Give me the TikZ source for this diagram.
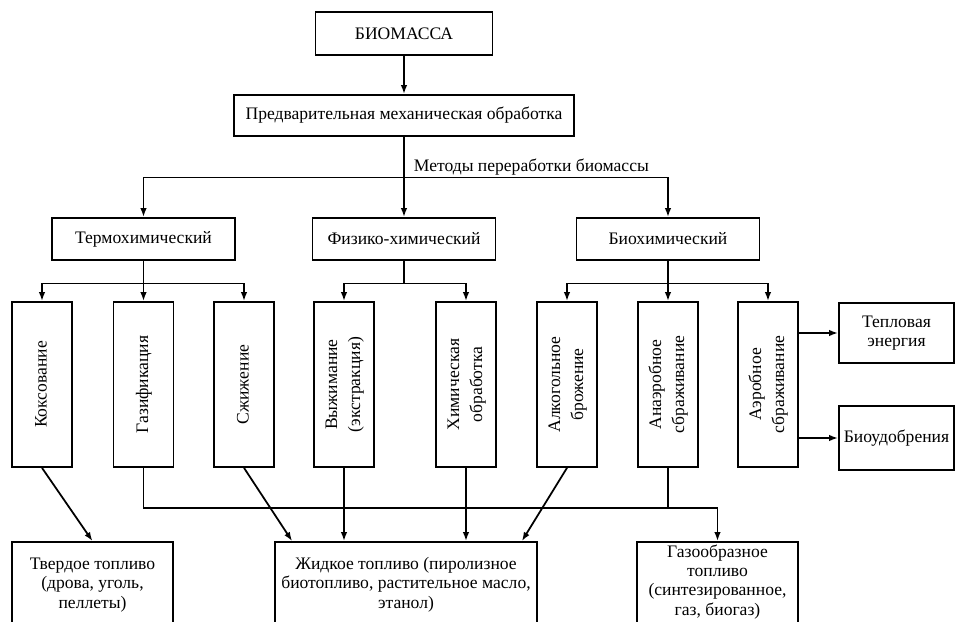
\documentclass[tikz,border=0pt]{standalone}
\usepackage{fontspec}
\setmainfont{Liberation Serif}
\usepackage{tikz}
\usetikzlibrary{arrows.meta}
\usetikzlibrary{shapes}

\newcommand{\rotlbl}[1]{\rotatebox{90}{\renewcommand{\arraystretch}{1.2}\begin{tabular}{@{}c@{}}#1\end{tabular}}}

\begin{document}
\begin{tikzpicture}[font=\fontsize{10}{11}\selectfont, line width=1pt,
    box/.style={rectangle, draw=black, inner sep=1pt, align=center},
    tallbox/.style={box, minimum width=1.2cm, minimum height=3.3cm},
    fuelbox/.style={box, minimum height=1.72cm},
    arr/.style={-{Latex[length=1.8mm,width=1.3mm]}}]
    \useasboundingbox (0,0) rectangle (19.1,-12.44);

    \node (bio) [box, minimum width=3.54cm, minimum height=0.86cm] at (8.08,-0.67) {БИОМАССА};
    \node (pre) [box, minimum width=6.8cm, minimum height=0.82cm] at (8.08,-2.31) {Предварительная механическая обработка};

    \node (termo) [box, minimum width=3.66cm, minimum height=0.84cm] at (2.87,-4.78) {Термохимический};
    \node (phys) [box, minimum width=3.66cm, minimum height=0.84cm] at (8.08,-4.78) {Физико-химический};
    \node (biochem) [box, minimum width=3.66cm, minimum height=0.84cm] at (13.36,-4.78) {Биохимический};

    \node (koks) [tallbox] at (0.84,-7.69) {\rotlbl{Коксование}};
    \node (gasif) [tallbox] at (2.87,-7.69) {\rotlbl{Газификация}};
    \node (szh) [tallbox] at (4.88,-7.69) {\rotlbl{Сжижение}};
    \node (extr) [tallbox] at (6.88,-7.69) {\rotlbl{Выжимание\\(экстракция)}};
    \node (chem) [tallbox] at (9.32,-7.69) {\rotlbl{Химическая\\обработка}};
    \node (alco) [tallbox] at (11.34,-7.69) {\rotlbl{Алкогольное\\брожение}};
    \node (anaer) [tallbox] at (13.36,-7.69) {\rotlbl{Анаэробное\\сбраживание}};
    \node (aer) [tallbox] at (15.36,-7.69) {\rotlbl{Аэробное\\сбраживание}};

    \node (heat) [box, minimum width=2.3cm, minimum height=1.2cm] at (17.93,-6.66) {\begin{tabular}{@{}c@{}}
         Тепловая\\энергия
    \end{tabular}};
    \node (fert) [box, minimum width=2.3cm, minimum height=1.28cm] at (17.93,-8.76) {Биоудобрения};

    \node (solid) [fuelbox, minimum width=3.22cm] at (1.85,-11.7) {\begin{tabular}{@{}c@{}}
         Твердое топливо\\(дрова, уголь,\\пеллеты)
    \end{tabular}};
    \node (liquid) [fuelbox, minimum width=5.24cm] at (8.12,-11.7) {\begin{tabular}{@{}c@{}}
         Жидкое топливо (пиролизное\\биотопливо, растительное масло,\\этанол)
    \end{tabular}};
    \node (gas) [fuelbox, minimum width=3.22cm] at (14.35,-11.7) {\begin{tabular}{@{}c@{}}
         Газообразное\\топливо\\(синтезированное,\\газ, биогаз)\\[3pt]
    \end{tabular}};

    % ствол сверху
    \draw[arr] (bio) -- (pre);
    \coordinate (m) at (8.08,-3.55);
    \draw (pre) -- (m);
    \node (methods) [anchor=west, inner sep=0pt] at (8.26,-3.34) {Методы переработки биомассы};
    \draw[arr] (m) -- (phys);
    \draw[arr] (m) -| (termo);
    \draw[arr] (m) -| (biochem);

    % ветви методов
    \draw (termo.south) -- ++(0,-0.45) coordinate (tb);
    \draw[arr] (tb) -| (koks);
    \draw[arr] (tb) -- (gasif);
    \draw[arr] (tb) -| (szh);
    \draw (phys.south) -- ++(0,-0.45) coordinate (pb);
    \draw[arr] (pb) -| (extr);
    \draw[arr] (pb) -| (chem);
    \draw (biochem.south) -- ++(0,-0.45) coordinate (bb);
    \draw[arr] (bb) -| (alco);
    \draw[arr] (bb) -- (anaer);
    \draw[arr] (bb) -| (aer);

    \draw[arr] (aer.east |- heat) -- (heat);
    \draw[arr] (aer.east |- fert) -- (fert);

    % виды топлива
    \draw[arr] (koks.south) -- (solid.north);
    \draw[arr] (szh.south) -- ([xshift=0.36cm]liquid.north west);
    \draw[arr] (extr) -- (extr |- liquid.north);
    \draw[arr] (chem) -- (chem |- liquid.north);
    \draw[arr] (alco.south) -- ([xshift=-0.32cm]liquid.north east);
    \coordinate (gb) at (14.35,-10.16);
    \draw[arr] (gasif) |- (gb) -- (gas);
    \draw (anaer) -- (anaer |- gb);
\end{tikzpicture}
\end{document}
